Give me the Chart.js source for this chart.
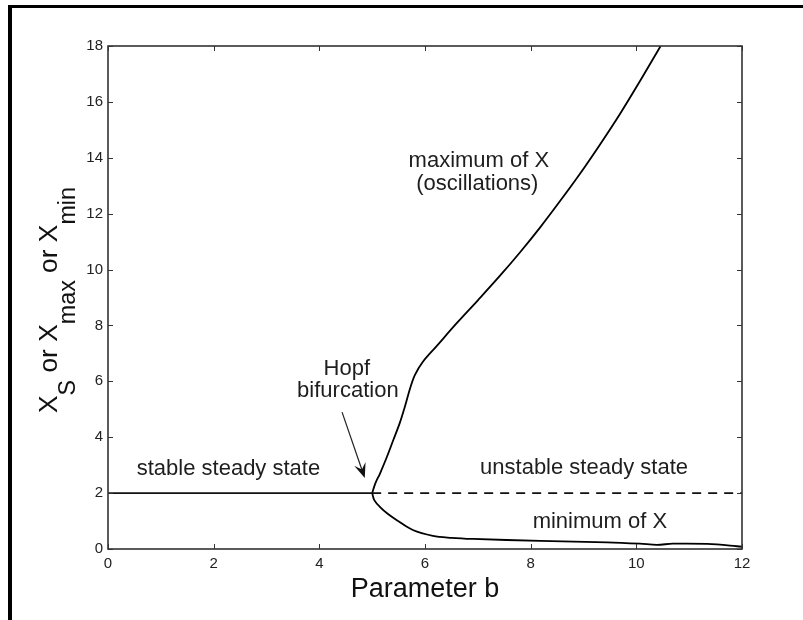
<!DOCTYPE html>
<html>
<head>
<meta charset="utf-8">
<script src="https://cdn.jsdelivr.net/npm/chart.js@4.4.0/dist/chart.umd.min.js"></script>
<style>
  html, body { margin: 0; padding: 0; background: #fff; }
</style>
</head>
<body>
<canvas id="chart" width="803" height="620"></canvas>
<script>
// axis ticks
const xTicks = [0, 2, 4, 6, 8, 10, 12];
const yTicks = [0, 2, 4, 6, 8, 10, 12, 14, 16, 18];

// steady state (stable up to the Hopf point, unstable after)
const stableX = [0, 5];
const stableY = [2, 2];
const unstableX = [5, 12];
const unstableY = [2, 2];

// maximum of X (oscillations)
const maxX = [5.0, 5.06, 5.15, 5.28, 5.40, 5.53, 5.62, 5.72, 5.81, 5.96, 6.22, 6.60, 7.00, 7.42, 7.80, 8.18, 8.56, 8.93, 9.31, 9.69, 10.07, 10.46];
const maxY = [2.0, 2.35, 2.71, 3.30, 3.90, 4.55, 5.10, 5.76, 6.23, 6.70, 7.26, 8.08, 8.90, 9.78, 10.62, 11.51, 12.46, 13.42, 14.47, 15.57, 16.75, 18.0];

// minimum of X
const minX = [5.0, 5.04, 5.15, 5.30, 5.46, 5.77, 6.15, 6.50, 6.91, 8.18, 9.45, 10.07, 10.39, 10.69, 11.34, 12.0];
const minY = [2.0, 1.75, 1.50, 1.25, 1.04, 0.68, 0.47, 0.40, 0.36, 0.29, 0.24, 0.19, 0.15, 0.19, 0.18, 0.08];

const FONT = '"Liberation Sans", Arial, Helvetica, sans-serif';
const toPts = (xs, ys) => xs.map((x, i) => ({ x: x, y: ys[i] }));

// frame, box, inward ticks, texts
const decorations = {
  id: 'decorations',
  beforeDraw(chart) {
    const ctx = chart.ctx;
    ctx.save();
    ctx.fillStyle = '#fff';
    ctx.fillRect(0, 0, chart.width, chart.height);
    ctx.fillStyle = '#000';
    ctx.fillRect(8, 5, 4, chart.height - 5);
    ctx.fillRect(8, 5, chart.width - 8, 3);
    ctx.restore();
  },
  afterDatasetsDraw(chart) {
    const { ctx, chartArea: a, scales: { x, y } } = chart;
    ctx.save();
    ctx.strokeStyle = '#333';
    ctx.lineWidth = 1.6;
    ctx.strokeRect(a.left, a.top, a.right - a.left, a.bottom - a.top);

    ctx.lineWidth = 1;
    ctx.beginPath();
    xTicks.forEach(v => {
      const px = Math.round(x.getPixelForValue(v)) + 0.5;
      ctx.moveTo(px, a.bottom); ctx.lineTo(px, a.bottom - 5);
      ctx.moveTo(px, a.top); ctx.lineTo(px, a.top + 5);
    });
    yTicks.forEach(v => {
      const py = Math.round(y.getPixelForValue(v)) + 0.5;
      ctx.moveTo(a.left, py); ctx.lineTo(a.left + 5, py);
      ctx.moveTo(a.right, py); ctx.lineTo(a.right - 5, py);
    });
    ctx.stroke();

    // annotations
    ctx.fillStyle = '#1e1e1e';
    ctx.textAlign = 'center';
    ctx.textBaseline = 'alphabetic';
    ctx.font = '22px ' + FONT;
    const put = (t, dx, dy) => ctx.fillText(t, x.getPixelForValue(dx), y.getPixelForValue(dy));
    put('stable steady state', 2.28, 2.65);
    put('unstable steady state', 9.01, 2.68);
    put('minimum of X', 9.31, 0.75);
    put('maximum of X', 7.02, 13.67);
    put('(oscillations)', 6.99, 12.85);
    put('Hopf', 4.52, 6.23);
    put('bifurcation', 4.54, 5.44);

    // arrow to the Hopf point
    const x0 = x.getPixelForValue(4.43), y0 = y.getPixelForValue(4.90);
    const x1 = x.getPixelForValue(4.86), y1 = y.getPixelForValue(2.54);
    const ang = Math.atan2(y1 - y0, x1 - x0);
    ctx.strokeStyle = '#222';
    ctx.lineWidth = 1.2;
    ctx.beginPath();
    ctx.moveTo(x0, y0);
    ctx.lineTo(x1 - 8 * Math.cos(ang), y1 - 8 * Math.sin(ang));
    ctx.stroke();
    const L = 15, W = 6;
    const bx = x1 - L * Math.cos(ang), by = y1 - L * Math.sin(ang);
    const nx = -Math.sin(ang), ny = Math.cos(ang);
    ctx.fillStyle = '#111';
    ctx.beginPath();
    ctx.moveTo(x1, y1);
    ctx.lineTo(bx + W * nx, by + W * ny);
    ctx.lineTo(x1 - 9 * Math.cos(ang), y1 - 9 * Math.sin(ang));
    ctx.lineTo(bx - W * nx, by - W * ny);
    ctx.closePath();
    ctx.fill();

    // x axis title
    ctx.fillStyle = '#111';
    ctx.font = '27px ' + FONT;
    ctx.fillText('Parameter b', (a.left + a.right) / 2, 597);

    // y axis title with subscripts
    const F = 26, f = 23, drop = 18;
    const parts = [
      ['X', F, 0], ['S', f, drop], [' or ', F, 0], ['X', F, 0], ['max', f, drop],
      [' or ', F, 0], ['X', F, 0], ['min', f, drop]
    ];
    let total = 0;
    parts.forEach(p => { ctx.font = p[1] + 'px ' + FONT; total += ctx.measureText(p[0]).width; });
    ctx.translate(57, 413);
    ctx.rotate(-Math.PI / 2);
    ctx.scale(226 / total, 1);
    ctx.textAlign = 'left';
    let pos = 0;
    parts.forEach(p => {
      ctx.font = p[1] + 'px ' + FONT;
      ctx.fillText(p[0], pos, p[2]);
      pos += ctx.measureText(p[0]).width;
    });
    ctx.restore();
  }
};

new Chart(document.getElementById('chart').getContext('2d'), {
  type: 'scatter',
  data: {
    datasets: [
      { data: toPts(stableX, stableY), showLine: true, borderColor: '#111', borderWidth: 1.6, pointRadius: 0 },
      { data: toPts(unstableX, unstableY), showLine: true, borderColor: '#111', borderWidth: 1.6, borderDash: [9, 7], pointRadius: 0 },
      { data: toPts(maxX, maxY), showLine: true, borderColor: '#000', borderWidth: 1.8, pointRadius: 0, tension: 0.35 },
      { data: toPts(minX, minY), showLine: true, borderColor: '#000', borderWidth: 1.8, pointRadius: 0, tension: 0.35 }
    ]
  },
  options: {
    responsive: false,
    animation: false,
    layout: { padding: { left: 48, right: 61, top: 46, bottom: 31 } },
    plugins: { legend: { display: false }, tooltip: { enabled: false } },
    scales: {
      x: {
        type: 'linear', min: 0, max: 12,
        afterFit: s => { s.height = 40; },
        afterBuildTicks: s => { s.ticks = xTicks.map(v => ({ value: v })); },
        grid: { display: false, drawTicks: false },
        border: { display: false },
        ticks: { color: '#222', font: { family: FONT, size: 15 }, padding: 6, maxRotation: 0, autoSkip: false }
      },
      y: {
        type: 'linear', min: 0, max: 18,
        afterFit: s => { s.width = 60; },
        afterBuildTicks: s => { s.ticks = yTicks.map(v => ({ value: v })); },
        grid: { display: false, drawTicks: false },
        border: { display: false },
        ticks: { color: '#222', font: { family: FONT, size: 15 }, padding: 5, autoSkip: false }
      }
    }
  },
  plugins: [decorations]
});
</script>
</body>
</html>
